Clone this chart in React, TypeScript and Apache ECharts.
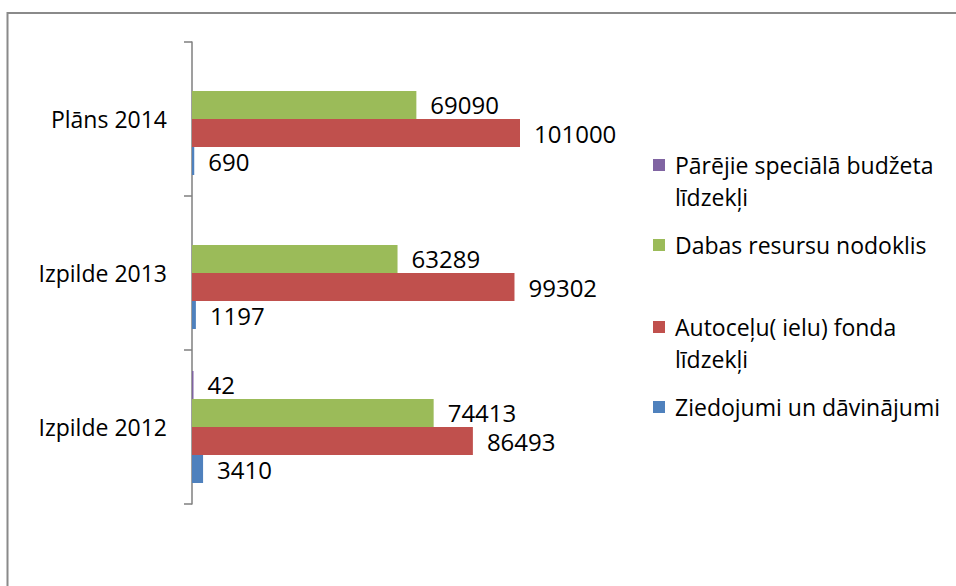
import React, { useEffect, useRef } from "react";
import * as echarts from "echarts";

const categories = ["Izpilde 2012", "Izpilde 2013", "Plāns 2014"];
const seriesNames = [
  "Pārējie speciālā budžeta līdzekļi",
  "Dabas resursu nodoklis",
  "Autoceļu( ielu) fonda līdzekļi",
  "Ziedojumi un dāvinājumi",
];
const legendLabels = [
  "Pārējie speciālā budžeta\nlīdzekļi",
  "Dabas resursu nodoklis",
  "Autoceļu( ielu) fonda\nlīdzekļi",
  "Ziedojumi un dāvinājumi",
];
const otherSpecial = [42, null, null];
const naturalResourceTax = [74413, 63289, 69090];
const roadFund = [86493, 99302, 101000];
const donations = [3410, 1197, 690];

const seriesValues = [otherSpecial, naturalResourceTax, roadFund, donations];
const colors = ["#8064A2", "#9BBB59", "#C0504D", "#4F81BD"];
const legendY = [165, 245, 327, 407];
const FONT = "'Open Sans', 'Noto Sans', sans-serif";

export default function App() {
  const ref = useRef<HTMLDivElement>(null);
  useEffect(() => {
    if (!ref.current) return;
    const chart = echarts.init(ref.current, null, { renderer: "svg" });
    const legendGraphics: any[] = [];
    seriesNames.forEach((_, i) => {
      legendGraphics.push({
        type: "rect",
        shape: { x: 653, y: legendY[i] - 6, width: 12, height: 12 },
        style: { fill: colors[i] },
      });
      legendGraphics.push({
        type: "text",
        x: 675,
        y: legendY[i] - 16,
        style: {
          text: legendLabels[i],
          fontSize: 23,
          fontFamily: FONT,
          fill: "#000",
          lineHeight: 32,
          verticalAlign: "top",
        },
      });
    });
    chart.setOption({
      animation: false,
      backgroundColor: "#fff",
      textStyle: { fontFamily: FONT },
      grid: { left: 192, top: 42, height: 462, width: 389.7 },
      xAxis: { type: "value", min: 0, max: 120000, show: false },
      yAxis: {
        type: "category",
        data: categories,
        axisLine: { show: true, lineStyle: { color: "#7f7f7f", width: 1.5 } },
        axisTick: { show: true, length: 8, lineStyle: { color: "#7f7f7f", width: 1.5 } },
        axisLabel: { fontSize: 23, color: "#000", margin: 25, fontFamily: FONT },
        splitLine: { show: false },
      },
      legend: { show: false },
      graphic: [
        {
          type: "rect",
          shape: { x: 7.5, y: 13, width: 1000, height: 1000 },
          style: { fill: "none", stroke: "#8a8a8a", lineWidth: 2 },
          silent: true,
        },
        ...legendGraphics,
      ],
      series: seriesNames.map((name, i) => ({
        name,
        type: "bar",
        data: seriesValues[i],
        itemStyle: { color: colors[i] },
        barGap: "0%",
        barCategoryGap: "27.27%",
        barMinHeight: 1.5,
        label: {
          show: true,
          position: "right",
          distance: 14,
          fontSize: 24,
          fontFamily: FONT,
          color: "#000",
        },
      })),
    });
    return () => chart.dispose();
  }, []);
  return (
    <div
      ref={ref}
      style={{ position: "fixed", left: 0, top: 0, width: 956, height: 586 }}
    />
  );
}
